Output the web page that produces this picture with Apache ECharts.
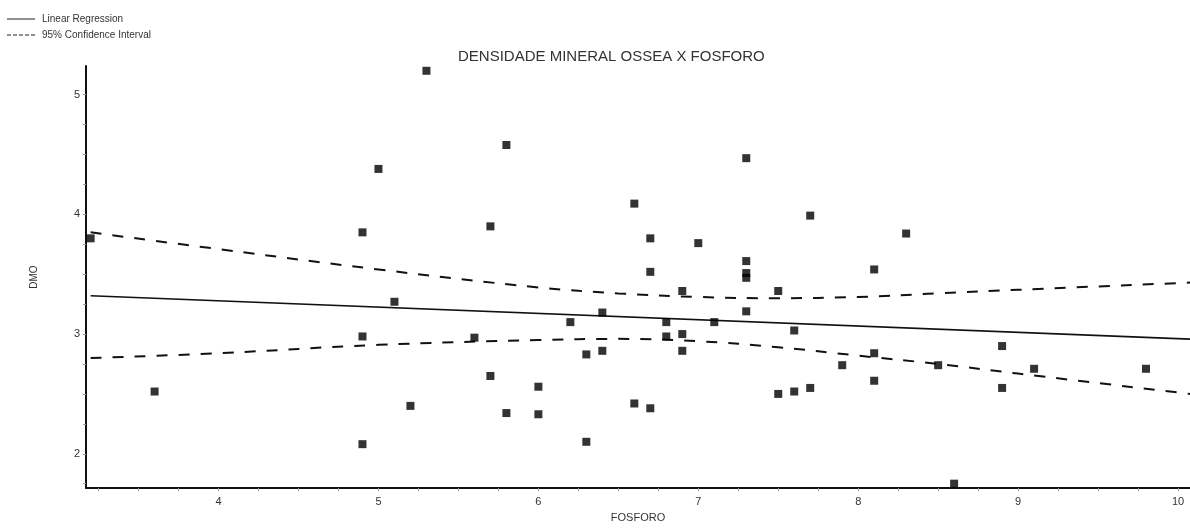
<!DOCTYPE html>
<html>
<head>
<meta charset="utf-8">
<script src="https://cdn.jsdelivr.net/npm/echarts@6/dist/echarts.min.js"></script>
<style>
  html, body { margin: 0; padding: 0; background: #fff; }
  #chart { width: 1190px; height: 528px; }
</style>
</head>
<body>
<div id="chart"></div>
<script>
// ---- data ----
var fosforo = [3.2, 3.6, 4.9, 4.9, 4.9, 5.0, 5.1, 5.2, 5.3, 5.6, 5.7, 5.7, 5.8, 5.8, 6.0, 6.0, 6.2, 6.3, 6.3, 6.4,
               6.4, 6.6, 6.6, 6.7, 6.7, 6.7, 6.8, 6.8, 6.9, 6.9, 6.9, 7.0, 7.1, 7.3, 7.3, 7.3, 7.3, 7.3, 7.5, 7.5,
               7.6, 7.6, 7.7, 7.7, 7.9, 8.1, 8.1, 8.1, 8.3, 8.5, 8.6, 8.9, 8.9, 9.1, 9.8];
var dmo =     [3.80, 2.52, 3.85, 2.98, 2.08, 4.38, 3.27, 2.40, 5.20, 2.97, 3.90, 2.65, 4.58, 2.34, 2.56, 2.33, 3.10, 2.83, 2.10, 3.18,
               2.86, 4.09, 2.42, 3.80, 3.52, 2.38, 3.10, 2.98, 3.36, 3.00, 2.86, 3.76, 3.10, 4.47, 3.61, 3.51, 3.47, 3.19, 3.36, 2.50,
               3.03, 2.52, 3.99, 2.55, 2.74, 3.54, 2.84, 2.61, 3.84, 2.74, 1.75, 2.90, 2.55, 2.71, 2.71];

var regX = [3.2, 10.075];
var regY = [3.32, 2.958];

var ciX     = [3.2, 4.0, 5.0, 6.0, 6.5, 7.0, 7.5, 8.0, 8.5, 9.0, 10.075];
var ciUpper = [3.85, 3.71, 3.54, 3.39, 3.34, 3.31, 3.30, 3.31, 3.34, 3.37, 3.43];
var ciLower = [2.80, 2.84, 2.91, 2.95, 2.96, 2.94, 2.89, 2.82, 2.75, 2.67, 2.50];

var xTickLabels = [4, 5, 6, 7, 8, 9, 10];
var yTickLabels = [2, 3, 4, 5];
var xTicks = [];
for (var t = 3.25; t <= 10.001; t += 0.25) xTicks.push(+t.toFixed(2));
var yTicks = [];
for (var u = 1.75; u <= 5.001; u += 0.25) yTicks.push(+u.toFixed(2));

var titleText = 'DENSIDADE MINERAL OSSEA X FOSFORO';
var xName = 'FOSFORO';
var yName = 'DMO';
var regName = 'Linear Regression';
var ciName = '95% Confidence Interval';

// ---- build ----
function zip(a, b) { return a.map(function (v, i) { return [v, b[i]]; }); }

// legend icons: a thin line inside a 28x10 box (tiny corner specks fix the box size)
var box = 'M0,0h0.01v0.01h-0.01z M27.99,9.99h0.01v0.01h-0.01z ';
var solidIcon = 'path://' + box + 'M0,4.5h28v1h-28z';
var dashIcon = 'path://' + box + 'M0,4.5h4v1h-4z M6,4.5h4v1h-4z M12,4.5h4v1h-4z M18,4.5h4v1h-4z M24,4.5h4v1h-4z';

var font = 'Liberation Sans, Arial, sans-serif';
var chart = echarts.init(document.getElementById('chart'));
chart.setOption({
  animation: false,
  backgroundColor: '#fff',
  textStyle: { fontFamily: font },
  title: {
    text: titleText,
    left: 458, top: 49, padding: 0,
    textStyle: { fontSize: 15, fontWeight: 'normal', color: '#333', fontFamily: font }
  },
  legend: {
    orient: 'vertical', left: 7, top: 14, padding: 0,
    itemWidth: 28, itemHeight: 10, itemGap: 6,
    textStyle: { fontSize: 10, color: '#333', fontFamily: font, padding: [0, 0, 0, 2] },
    data: [
      { name: regName, icon: solidIcon, itemStyle: { color: '#222', borderWidth: 0 } },
      { name: ciName, icon: dashIcon, itemStyle: { color: '#222', borderWidth: 0 } }
    ]
  },
  grid: { left: 86, right: 0, top: 66, bottom: 35, containLabel: false },
  xAxis: {
    type: 'value', min: 3.171, max: 10.075,
    name: xName, nameLocation: 'middle', nameGap: 22,
    nameTextStyle: { fontSize: 11, color: '#333' },
    axisLine: { show: true, lineStyle: { color: '#111', width: 2 } },
    axisTick: { show: true, length: 3, customValues: xTicks, lineStyle: { color: '#999' } },
    axisLabel: { customValues: xTickLabels, fontSize: 11, color: '#333', margin: 8 },
    splitLine: { show: false }
  },
  yAxis: {
    type: 'value', min: 1.713, max: 5.24,
    name: yName, nameLocation: 'middle', nameGap: 47, nameRotate: 90,
    nameTextStyle: { fontSize: 10, color: '#333' },
    axisLine: { show: true, lineStyle: { color: '#111', width: 2 } },
    axisTick: { show: true, length: 3, customValues: yTicks, lineStyle: { color: '#999' } },
    axisLabel: { customValues: yTickLabels, fontSize: 11, color: '#333', margin: 6 },
    splitLine: { show: false }
  },
  series: [
    {
      name: regName, type: 'line', data: zip(regX, regY), symbol: 'none',
      itemStyle: { color: '#111' },
      lineStyle: { color: '#111', width: 1.6 }, z: 2, silent: true
    },
    {
      name: ciName, type: 'line', data: zip(ciX, ciUpper), symbol: 'none', smooth: 0.4,
      itemStyle: { color: '#111' },
      lineStyle: { color: '#111', width: 2, type: [11, 11] }, z: 2, silent: true
    },
    {
      name: ciName, type: 'line', data: zip(ciX, ciLower), symbol: 'none', smooth: 0.4,
      itemStyle: { color: '#111' },
      lineStyle: { color: '#111', width: 2, type: [11, 11] }, z: 2, silent: true
    },
    {
      name: 'DMO', type: 'scatter', data: zip(fosforo, dmo), symbol: 'rect', symbolSize: 8,
      itemStyle: { color: '#000' }, z: 3, clip: false
    }
  ]
});
</script>
</body>
</html>
